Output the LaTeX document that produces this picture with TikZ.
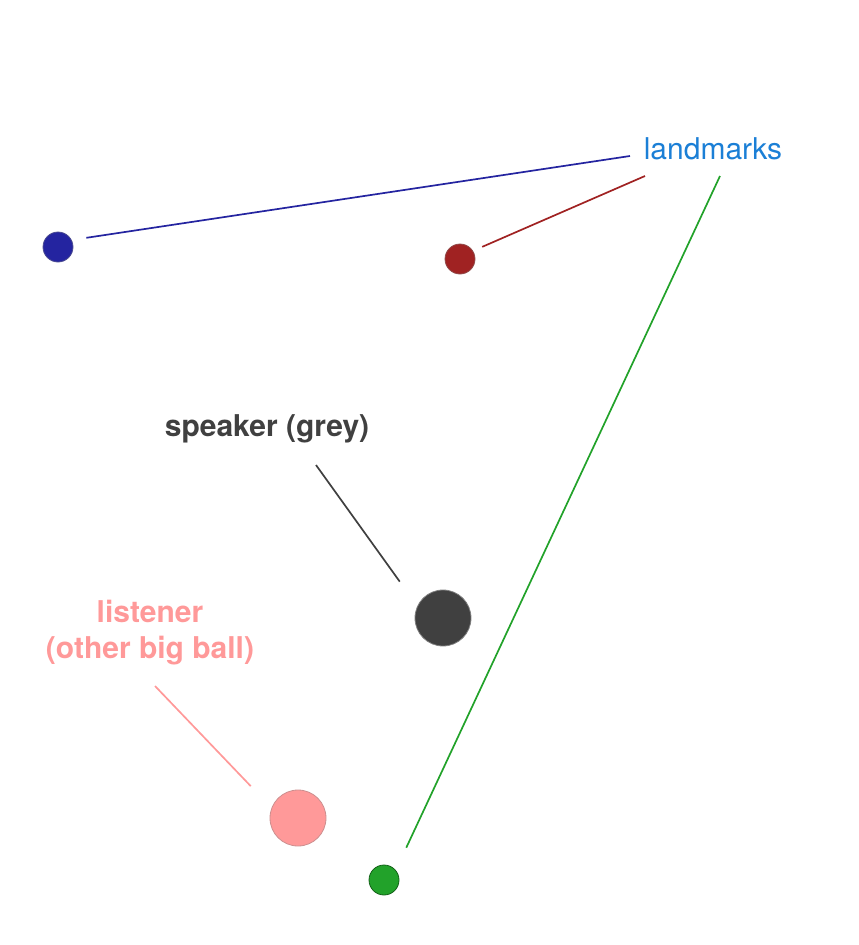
\documentclass[tikz,border=0pt]{standalone}
\usepackage{fontspec}
\setmainfont{TeX Gyre Heros}

\definecolor{markblue}{RGB}{36,36,160}
\definecolor{markred}{RGB}{160,34,34}
\definecolor{markgreen}{RGB}{34,162,42}
\definecolor{speakgrey}{RGB}{64,64,64}
\definecolor{listenpink}{RGB}{255,153,153}
\definecolor{labelblue}{RGB}{27,127,214}

\begin{document}
\begin{tikzpicture}[x = 1pt, y = -1pt,
	ball/.style = {circle, inner sep = 0pt, line width = 0.8pt},
	smallball/.style = {ball, minimum size = 30pt},
	bigball/.style = {ball, minimum size = 56pt},
	lbl/.style = {font = \fontsize{30}{36}\selectfont, inner sep = 0pt, anchor = base},
	link/.style = {line width = 1.7pt}]
	 \useasboundingbox (0, 0) rectangle (859, 945);
	 
	 \node[smallball, fill = markblue, draw = markblue!55!gray] (blueball) at (58, 247) {};
	 \node[smallball, fill = markred, draw = markred!55!gray] (redball) at (460, 259) {};
	 \node[smallball, fill = markgreen, draw = markgreen!60!black] (greenball) at (384, 880) {};
	 \node[bigball, fill = speakgrey, draw = gray] (speaker) at (443, 618) {};
	 \node[bigball, fill = listenpink, draw = listenpink!60!gray] (listener) at (298, 818) {};
	 
	 \node[lbl, text = labelblue] (landmarks) at (713, 159) {landmarks};
	 \node[lbl, text = speakgrey, font = \fontsize{30}{36}\selectfont\bfseries] (speakerlbl) at (267, 436) {speaker (grey)};
	 \node[lbl, text = listenpink, font = \fontsize{30}{36}\selectfont\bfseries] (listenerlbl) at (150, 622) {listener};
	 \node[lbl, text = listenpink, font = \fontsize{30}{36}\selectfont\bfseries] (listenerlbl2) at (150, 658) {(other big ball)};
	 
	 \coordinate (bluetip) at (630, 156);
	 \coordinate (redtip) at (645, 176);
	 \coordinate (greentip) at (720, 176);
	 \coordinate (speakertip) at (316, 465);
	 \coordinate (listenertip) at (155, 686);
	 
	 \draw[link, markblue, shorten >= 14.8pt] (bluetip) -- (blueball.27);
	 \draw[link, markred, shorten >= 10pt] (redtip) -- (redball.32);
	 \draw[link, markgreen, shorten >= 24.7pt] (greentip) -- (greenball.40);
	 \draw[link, speakgrey, shorten >= 30pt] (speakertip) -- (speaker.155);
	 \draw[link, listenpink, shorten >= 30pt] (listenertip) -- (listener.159);
\end{tikzpicture}
\end{document}
